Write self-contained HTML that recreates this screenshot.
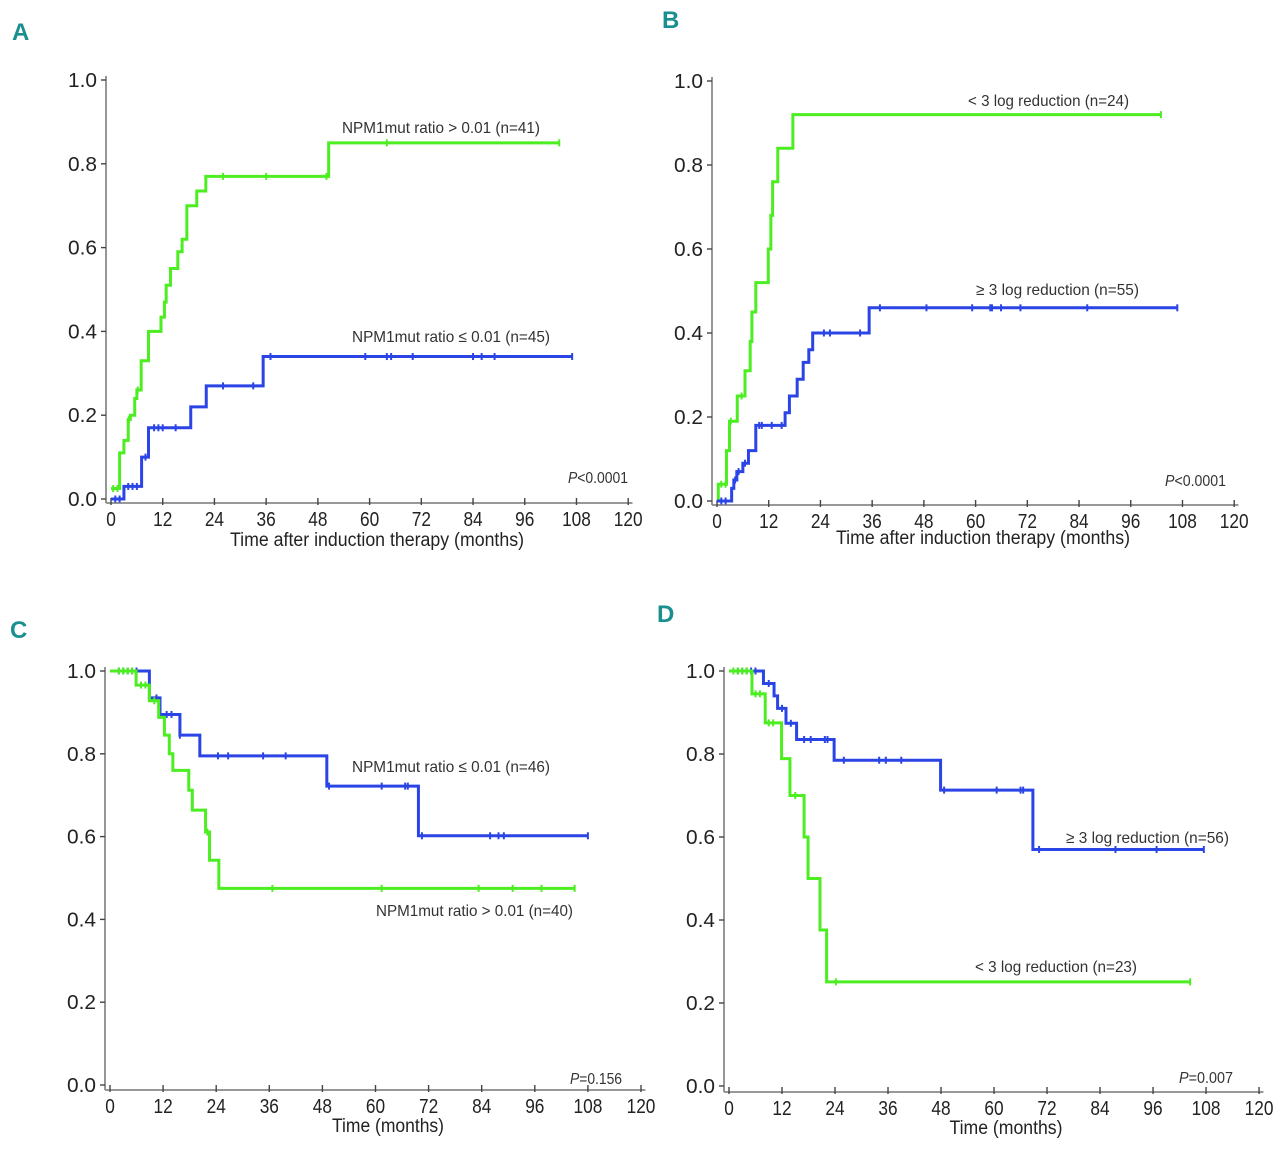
<!DOCTYPE html>
<html><head><meta charset="utf-8"><title>Cumulative incidence and survival curves</title>
<style>
html,body{margin:0;padding:0;background:#fff;}
svg{display:block;font-family:"Liberation Sans Narrow","Liberation Sans",sans-serif;}
</style></head>
<body>
<svg id="fig" width="1280" height="1150" viewBox="0 0 1280 1150" xmlns="http://www.w3.org/2000/svg"></svg>
<script>
// ---------- data ----------
const xTickLabels = [0,12,24,36,48,60,72,84,96,108,120];
const yTickLabels = ["0.0","0.2","0.4","0.6","0.8","1.0"];
const yTickValues = [0,0.2,0.4,0.6,0.8,1.0];

const aGreenTimes = [0,2,3,4,4.5,5.5,6,7,8.7,11.6,12.4,12.8,13.8,15.5,16.5,17.6,19.9,22,50.5];
const aGreenValues = [0.025,0.11,0.14,0.19,0.2,0.24,0.26,0.33,0.40,0.434,0.47,0.51,0.55,0.59,0.62,0.70,0.735,0.77,0.85];
const aGreenEnd = 104;
const aGreenCensors = [0.5,1.5,4.2,6.2,26,36,50,64,104];
const aBlueTimes = [0,3,7.1,8.7,18.5,22.1,35.3];
const aBlueValues = [0,0.03,0.10,0.17,0.22,0.27,0.34];
const aBlueEnd = 107;
const aBlueCensors = [1,2,4,5,6,8,10,11,12,15,26,33,37,59,64,65,70,84,86,89,107];

const bGreenTimes = [0,0.3,2.2,2.9,4.7,6.5,7.7,8.1,9,11.9,12.5,12.9,14.1,17.6];
const bGreenValues = [0,0.04,0.12,0.19,0.25,0.31,0.38,0.45,0.52,0.60,0.68,0.76,0.84,0.92];
const bGreenEnd = 103;
const bGreenCensors = [1,2,3.2,5.7,103];
const bBlueTimes = [0,3.4,3.9,4.6,6,7.3,9,15.8,16.8,18.6,20,21.3,22.2,35.3];
const bBlueValues = [0,0.03,0.05,0.07,0.09,0.12,0.18,0.21,0.25,0.29,0.33,0.36,0.40,0.46];
const bBlueEnd = 106.8;
const bBlueCensors = [1,2,4.2,5,6.5,9.8,10.4,12.7,15,24.8,26.2,33.2,37.8,48.6,59.2,63.4,63.8,65.9,70.4,85.9,106.8];

const cBlueTimes = [0,8.9,11.3,15.8,20.3,49,69.7];
const cBlueValues = [1,0.935,0.895,0.845,0.795,0.722,0.602];
const cBlueEnd = 108;
const cBlueCensors = [2,3,4,5,6,10.5,11.4,12.8,13.9,15.8,24.4,26.7,34.6,39.7,49.5,61.4,66.7,67.3,70.5,85.9,87.8,89,108];
const cGreenTimes = [0,5.9,8.9,11,12.3,13.4,14.2,17.8,18.6,21.6,22.5,24.6];
const cGreenValues = [1,0.966,0.928,0.888,0.845,0.80,0.76,0.712,0.664,0.611,0.543,0.475];
const cGreenEnd = 105;
const cGreenCensors = [2,3,4,5,7,8,10,22,36.7,61.4,83.3,91,97.5,105];

const dBlueTimes = [0,7.8,10.2,11,12.9,15.3,23.8,47.9,68.8];
const dBlueValues = [1,0.97,0.94,0.91,0.874,0.835,0.785,0.713,0.57];
const dBlueEnd = 107.5;
const dBlueCensors = [2,3,4,5,6,9,12,14,17,18.5,21.7,22.3,26,34,35.5,39,48.7,60.6,66,66.6,70.2,87.5,96.8,107.5];
const dGreenTimes = [0,5.2,8.2,11.9,13.8,17,17.9,20.6,22.1];
const dGreenValues = [1,0.945,0.875,0.789,0.70,0.60,0.50,0.376,0.251];
const dGreenEnd = 104.4;
const dGreenCensors = [1,2,3,4,6,7,9,10,15,24.2,104.4];

// ---------- drawing ----------
const NS = "http://www.w3.org/2000/svg";
const svg = document.getElementById("fig");
const GREEN = "#4cee22", BLUE = "#2a44e6", AXIS = "#8a8a8a";

function mk(tag, attrs, parent, text) {
  const e = document.createElementNS(NS, tag);
  for (const k in attrs) e.setAttribute(k, attrs[k]);
  if (text !== undefined) e.textContent = text;
  (parent || svg).appendChild(e);
  return e;
}
function stepVal(times, values, t) {
  let v = values[0];
  for (let i = 0; i < times.length; i++) if (times[i] <= t) v = values[i];
  return v;
}

function drawPanel(p) {
  const g = mk("g", {});
  
  
  const X = m => p.x0 + m * p.ppm;
  const Y = v => p.y0 - v * (p.y0 - p.y1);

  const letter = mk("text", {x: p.lx, y: p.ly, fill: "#1a8f8f", "font-size": 24, "font-weight": "bold"}, g, p.letter);
  
  

  const ya = mk("line", {x1: p.ax, y1: Y(1) - 4, x2: p.ax, y2: p.axy, stroke: AXIS, "stroke-width": 1.8}, g);
  
  
  const xa = mk("line", {x1: p.ax, y1: p.axy, x2: X(121), y2: p.axy, stroke: AXIS, "stroke-width": 1.8}, g);
  
  

  yTickValues.forEach((v, i) => {
    mk("line", {x1: p.ax - 5, y1: Y(v), x2: p.ax, y2: Y(v), stroke: "#444", "stroke-width": 1.4}, g);
    const t = mk("text", {x: p.ax - 9, y: Y(v) + 7, "text-anchor": "end", "font-size": 20, fill: "#222", textLength: 29, lengthAdjust: "spacingAndGlyphs"}, g, yTickLabels[i]);
    
    
  });
  xTickLabels.forEach(m => {
    mk("line", {x1: X(m), y1: p.axy - 5, x2: X(m), y2: p.axy + 2, stroke: "#444", "stroke-width": 1.4}, g);
    const s = String(m);
    const t = mk("text", {x: X(m), y: p.axy + 23, "text-anchor": "middle", "font-size": 20, fill: "#222", textLength: s.length * 9.6, lengthAdjust: "spacingAndGlyphs"}, g, s);
    
    
  });
  const xt = mk("text", {x: p.tx, y: p.ty, "text-anchor": "middle", "font-size": 19, fill: "#222", textLength: p.tw, lengthAdjust: "spacingAndGlyphs"}, g, p.title);
  
  

  const pv = mk("text", {x: p.px, y: p.py, "font-size": 16, fill: "#333", textLength: p.pw, lengthAdjust: "spacingAndGlyphs"}, g);
  
  
  mk("tspan", {"font-style": "italic"}, pv, "P");
  mk("tspan", {}, pv, p.ptext);

  p.series.forEach(s => {
    let d = "M" + X(0) + "," + Y(s.values[0]);
    for (let i = 1; i < s.times.length; i++) {
      d += " H" + X(s.times[i]) + " V" + Y(s.values[i]);
    }
    d += " H" + X(s.end);
    const path = mk("path", {d: d, fill: "none", stroke: s.color, "stroke-width": 3}, g);
    
    
    s.censors.forEach(c => {
      const cy = Y(stepVal(s.times, s.values, c));
      const cm = mk("line", {x1: X(c), y1: cy - 3.5, x2: X(c), y2: cy + 3.5, stroke: s.color, "stroke-width": 2}, g);
      
      
    });
    const lt = mk("text", {x: s.lx, y: s.ly, "font-size": 16, fill: "#333", textLength: s.lw, lengthAdjust: "spacingAndGlyphs"}, g, s.label);
    
    
  });
}

drawPanel({name: "panel-a", letter: "A", lx: 12, ly: 40, x0: 111, ppm: 4.31, y0: 499, y1: 80, ax: 106, axy: 503,
  title: "Time after induction therapy (months)", tx: 377, ty: 546, tw: 294,
  px: 568, py: 483, pw: 60, ptext: "<0.0001",
  series: [
    {name: "ratio-high", color: GREEN, times: aGreenTimes, values: aGreenValues, end: aGreenEnd, censors: aGreenCensors, label: "NPM1mut ratio > 0.01 (n=41)", lx: 342, ly: 133, lw: 198},
    {name: "ratio-low", color: BLUE, times: aBlueTimes, values: aBlueValues, end: aBlueEnd, censors: aBlueCensors, label: "NPM1mut ratio \u2264 0.01 (n=45)", lx: 352, ly: 342, lw: 198}
  ]});

drawPanel({name: "panel-b", letter: "B", lx: 662, ly: 28, x0: 717, ppm: 4.31, y0: 501, y1: 81, ax: 712, axy: 505,
  title: "Time after induction therapy (months)", tx: 983, ty: 544, tw: 294,
  px: 1165, py: 486, pw: 61, ptext: "<0.0001",
  series: [
    {name: "less-3-log", color: GREEN, times: bGreenTimes, values: bGreenValues, end: bGreenEnd, censors: bGreenCensors, label: "< 3 log reduction (n=24)", lx: 968, ly: 106, lw: 161},
    {name: "ge-3-log", color: BLUE, times: bBlueTimes, values: bBlueValues, end: bBlueEnd, censors: bBlueCensors, label: "\u2265 3 log reduction (n=55)", lx: 976, ly: 295, lw: 163}
  ]});

drawPanel({name: "panel-c", letter: "C", lx: 10, ly: 638, x0: 110, ppm: 4.425, y0: 1085, y1: 671, ax: 105, axy: 1090,
  title: "Time (months)", tx: 388, ty: 1132, tw: 112,
  px: 570, py: 1084, pw: 52, ptext: "=0.156",
  series: [
    {name: "ratio-low", color: BLUE, times: cBlueTimes, values: cBlueValues, end: cBlueEnd, censors: cBlueCensors, label: "NPM1mut ratio \u2264 0.01 (n=46)", lx: 352, ly: 772, lw: 198},
    {name: "ratio-high", color: GREEN, times: cGreenTimes, values: cGreenValues, end: cGreenEnd, censors: cGreenCensors, label: "NPM1mut ratio > 0.01 (n=40)", lx: 376, ly: 916, lw: 197}
  ]});

drawPanel({name: "panel-d", letter: "D", lx: 657, ly: 622, x0: 729, ppm: 4.417, y0: 1086, y1: 671, ax: 724, axy: 1092,
  title: "Time (months)", tx: 1006, ty: 1134, tw: 113,
  px: 1179, py: 1083, pw: 54, ptext: "=0.007",
  series: [
    {name: "ge-3-log", color: BLUE, times: dBlueTimes, values: dBlueValues, end: dBlueEnd, censors: dBlueCensors, label: "\u2265 3 log reduction (n=56)", lx: 1066, ly: 843, lw: 163},
    {name: "less-3-log", color: GREEN, times: dGreenTimes, values: dGreenValues, end: dGreenEnd, censors: dGreenCensors, label: "< 3 log reduction (n=23)", lx: 975, ly: 972, lw: 162}
  ]});
</script>
</body></html>
